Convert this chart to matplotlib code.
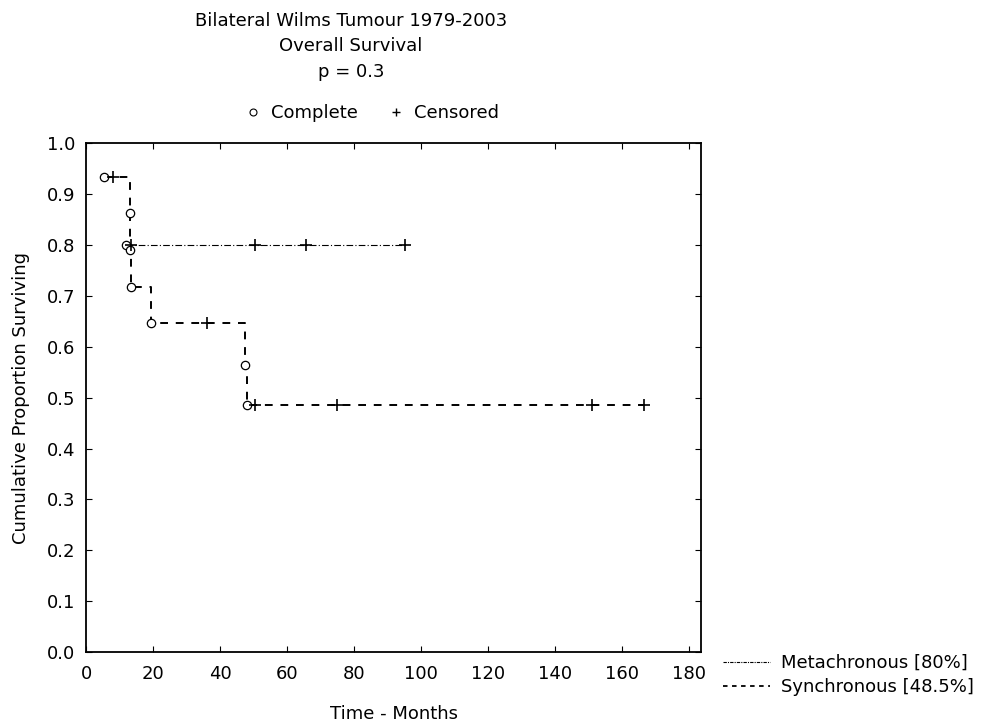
import numpy as np
import matplotlib
matplotlib.use("Agg")
import matplotlib.pyplot as plt
from matplotlib.lines import Line2D

plt.rcParams['font.family'] = ['DejaVu Sans']
FS = 13

# Metachronous group: deaths and censored times (months)
meta_death_t = [12]
meta_death_s = [0.8]
meta_cens_t = [13.5, 50.5, 65.7, 95]

# Synchronous group
sync_death_t = [5.4, 13, 13, 13.5, 19.5, 47.5, 48]
sync_death_s = [0.933, 0.862, 0.790, 0.718, 0.646, 0.565, 0.485]
sync_cens_t = [8, 36, 50.5, 75, 151, 166.5]

title_lines = ["Bilateral Wilms Tumour 1979-2003", "Overall Survival", "p = 0.3"]
xticks = [0, 20, 40, 60, 80, 100, 120, 140, 160, 180]
yticks = [0.0, 0.1, 0.2, 0.3, 0.4, 0.5, 0.6, 0.7, 0.8, 0.9, 1.0]


def step_curve(death_t, death_s, end_t):
    # statistica starts the line at the first event, not at (0, 1)
    xs = [death_t[0]]
    ys = [death_s[0]]
    for t, s in zip(death_t[1:], death_s[1:]):
        xs += [t, t]
        ys += [ys[-1], s]
    xs.append(end_t)
    ys.append(ys[-1])
    return xs, ys


def surv_at(death_t, death_s, t):
    s = 1.0
    for dt, ds in zip(death_t, death_s):
        if dt <= t:
            s = ds
    return s


fig = plt.figure(figsize=(9.89, 7.27), dpi=100)
ax = fig.add_axes([0.087, 0.103, 0.622, 0.700])

mx, my = step_curve(meta_death_t, meta_death_s, max(meta_cens_t))
sx, sy = step_curve(sync_death_t, sync_death_s, max(sync_cens_t))

ax.plot(mx, my, color='black', lw=0.8, linestyle=(0, (6, 2, 1, 2)))
ax.plot(sx, sy, color='black', lw=1.4, linestyle=(0, (4, 4)))

# complete (deaths) as open circles
ax.plot(meta_death_t, meta_death_s, 'o', mfc='white', mec='black', ms=6, mew=0.9)
ax.plot(sync_death_t, sync_death_s, 'o', mfc='white', mec='black', ms=6, mew=0.9)

# censored as plus
ax.plot(meta_cens_t, [surv_at(meta_death_t, meta_death_s, t) for t in meta_cens_t],
        '+', color='black', ms=8, mew=1.2)
ax.plot(sync_cens_t, [surv_at(sync_death_t, sync_death_s, t) for t in sync_cens_t],
        '+', color='black', ms=8, mew=1.2)

ax.set_xlim(0, 183.5)
ax.set_ylim(0, 1.0)
ax.set_xticks(xticks)
ax.set_xticklabels([str(v) for v in xticks])
ax.set_yticks(yticks)
ax.set_yticklabels(["%.1f" % v for v in yticks])
ax.tick_params(direction='in', length=4, labelsize=FS, top=True, right=True)
ax.tick_params(axis='x', pad=9)
ax.tick_params(axis='y', pad=8)
for sp in ax.spines.values():
    sp.set_linewidth(1.3)

ax.set_xlabel("Time - Months", fontsize=FS, labelpad=16)
ax.set_ylabel("Cumulative Proportion Surviving", fontsize=FS, labelpad=12)

title_y = [21, 46, 72]
for line, ty in zip(title_lines, title_y):
    fig.text(0.355, 1 - ty / 727, line, ha='center', va='center', fontsize=FS)

top_handles = [
    Line2D([], [], marker='o', linestyle='none', mfc='white', mec='black', ms=5, mew=0.8),
    Line2D([], [], marker='+', linestyle='none', color='black', ms=6, mew=1.0),
]
fig.legend(top_handles, ["Complete", "Censored"], loc='center', ncol=2,
           bbox_to_anchor=(0.375, 1 - 113 / 727), frameon=False, fontsize=FS,
           handletextpad=0.4, columnspacing=1.5, handlelength=1.2)

bot_handles = [
    Line2D([], [], color='black', lw=0.8, linestyle=(0, (3, 1, 1, 1))),
    Line2D([], [], color='black', lw=1.3, linestyle=(0, (2.5, 2.5))),
]
fig.legend(bot_handles, ["Metachronous [80%]", "Synchronous [48.5%]"],
           loc='upper left', bbox_to_anchor=(0.731, 1 - 654 / 727), frameon=False,
           fontsize=FS, handlelength=2.6, handletextpad=0.6, labelspacing=0.35,
           borderaxespad=0, borderpad=0)

fig.savefig("out.png", dpi=100)
